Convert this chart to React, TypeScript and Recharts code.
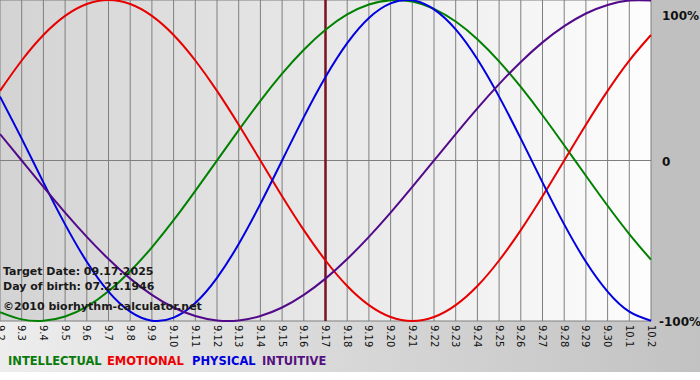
import React from 'react';
import { LineChart, Line, XAxis, YAxis, CartesianGrid, ReferenceLine } from 'recharts';

const days = ['9.2', '9.3', '9.4', '9.5', '9.6', '9.7', '9.8', '9.9', '9.10', '9.11', '9.12', '9.13', '9.14', '9.15', '9.16', '9.17',
  '9.18', '9.19', '9.20', '9.21', '9.22', '9.23', '9.24', '9.25', '9.26', '9.27', '9.28', '9.29', '9.30', '10.1', '10.2'];

const intellectual = [-0.945, -0.990, -0.999, -0.972, -0.910, -0.815, -0.690, -0.541, -0.372, -0.189, 0, 0.189, 0.372, 0.541, 0.690, 0.815,
  0.910, 0.972, 0.999, 0.990, 0.945, 0.866, 0.756, 0.618, 0.458, 0.282, 0.095, -0.095, -0.282, -0.458, -0.618];
const emotional = [0.434, 0.623, 0.782, 0.901, 0.975, 1.0, 0.975, 0.901, 0.782, 0.623, 0.434, 0.223, 0, -0.223, -0.434, -0.623,
  -0.782, -0.901, -0.975, -1.0, -0.975, -0.901, -0.782, -0.623, -0.434, -0.223, 0, 0.223, 0.434, 0.623, 0.782];
const physical = [0.398, 0.136, -0.136, -0.398, -0.631, -0.817, -0.942, -0.998, -0.979, -0.888, -0.731, -0.520, -0.270, 0, 0.270, 0.520,
  0.731, 0.888, 0.979, 0.998, 0.942, 0.817, 0.631, 0.398, 0.136, -0.136, -0.398, -0.631, -0.817, -0.942, -0.998];
const intuitive = [0.165, 0, -0.165, -0.325, -0.476, -0.614, -0.736, -0.837, -0.916, -0.969, -0.997, -0.997, -0.969, -0.916, -0.837, -0.736,
  -0.614, -0.476, -0.325, -0.165, 0, 0.165, 0.325, 0.476, 0.614, 0.736, 0.837, 0.916, 0.969, 0.997, 0.997];

const yTicks = [-1, 0, 1];
const targetDay = '9.17';

const data = days.map((d, i) => ({
  day: d,
  intellectual: intellectual[i],
  emotional: emotional[i],
  physical: physical[i],
  intuitive: intuitive[i],
}));

const FONT = '"DejaVu Sans", Verdana, sans-serif';

const DayTick = (props: any) => {
  const { x, y, payload } = props;
  return (
    <text transform={`translate(${x},${y}) rotate(90)`} x={0} y={0} dy="0.35em" textAnchor="start"
      fontSize={10} fontFamily={FONT} fill="#111">
      {payload.value}
    </text>
  );
};

const PctTick = (props: any) => {
  const { x, y, payload } = props;
  const v = payload.value;
  const label = v === 1 ? '100%' : v === -1 ? '-100%' : '0';
  const dy = v === 1 ? 11 : 5;
  const dx = v === -1 ? 6 : 9;
  return (
    <text x={x + dx} y={y + dy} textAnchor="start" fontSize={12} fontWeight="bold" fontFamily={FONT} fill="#111">
      {label}
    </text>
  );
};

const legendStyle = { position: 'absolute' as const, top: 354, fontFamily: FONT, fontWeight: 'bold', fontSize: 11.5, whiteSpace: 'pre' as const };

export default function App() {
  return (
    <div style={{
      position: 'absolute', left: 0, top: 0, width: 700, height: 380, overflow: 'hidden',
      background: 'linear-gradient(to bottom, transparent 372px, #fff 372px), linear-gradient(to right, #ededed, #c2c2c2)',
    }}>
      <div style={{ position: 'absolute', left: 651, top: 0, width: 49, height: 321, background: '#c0c0c0' }} />
      <LineChart width={700} height={380} data={data} margin={{ top: 0, right: 0, left: 0, bottom: 0 }}
        style={{ position: 'absolute', left: 0, top: 0 }}>
        <defs>
          <linearGradient id="plotBg" x1="0" y1="0" x2="1" y2="0">
            <stop offset="0%" stopColor="#d3d3d3" />
            <stop offset="100%" stopColor="#fdfdfd" />
          </linearGradient>
        </defs>
        <CartesianGrid stroke="#7f7f7f" strokeWidth={1} fill="url(#plotBg)" fillOpacity={1} />
        <XAxis dataKey="day" interval={0} height={59} tick={<DayTick />} tickLine={false} axisLine={false} tickSize={2} />
        <YAxis orientation="right" width={49} domain={[-1, 1]} ticks={yTicks} tick={<PctTick />}
          tickLine={false} axisLine={false} tickSize={0} />
        <ReferenceLine x={targetDay} stroke="#7a1020" strokeWidth={2.5} />
        <Line type="natural" dataKey="intellectual" stroke="#008000" strokeWidth={2} dot={false} activeDot={false} isAnimationActive={false} />
        <Line type="natural" dataKey="emotional" stroke="#e60000" strokeWidth={2} dot={false} activeDot={false} isAnimationActive={false} />
        <Line type="natural" dataKey="physical" stroke="#0000e0" strokeWidth={2} dot={false} activeDot={false} isAnimationActive={false} />
        <Line type="natural" dataKey="intuitive" stroke="#520a8a" strokeWidth={2} dot={false} activeDot={false} isAnimationActive={false} />
      </LineChart>
      <div style={{ position: 'absolute', left: 3, top: 264, fontFamily: FONT, fontWeight: 'bold', fontSize: 11, color: '#1a1a1a', lineHeight: '15px' }}>
        <div>Target Date: 09.17.2025</div>
        <div>Day of birth: 07.21.1946</div>
        <div style={{ marginTop: 5 }}>©2010 biorhythm-calculator.net</div>
      </div>
      <span style={{ ...legendStyle, left: 8, color: '#0a7a0a' }}>INTELLECTUAL</span>
      <span style={{ ...legendStyle, left: 107, color: '#ee0000' }}>EMOTIONAL</span>
      <span style={{ ...legendStyle, left: 192, color: '#0000dd' }}>PHYSICAL</span>
      <span style={{ ...legendStyle, left: 262, color: '#55117f' }}>INTUITIVE</span>
    </div>
  );
}
